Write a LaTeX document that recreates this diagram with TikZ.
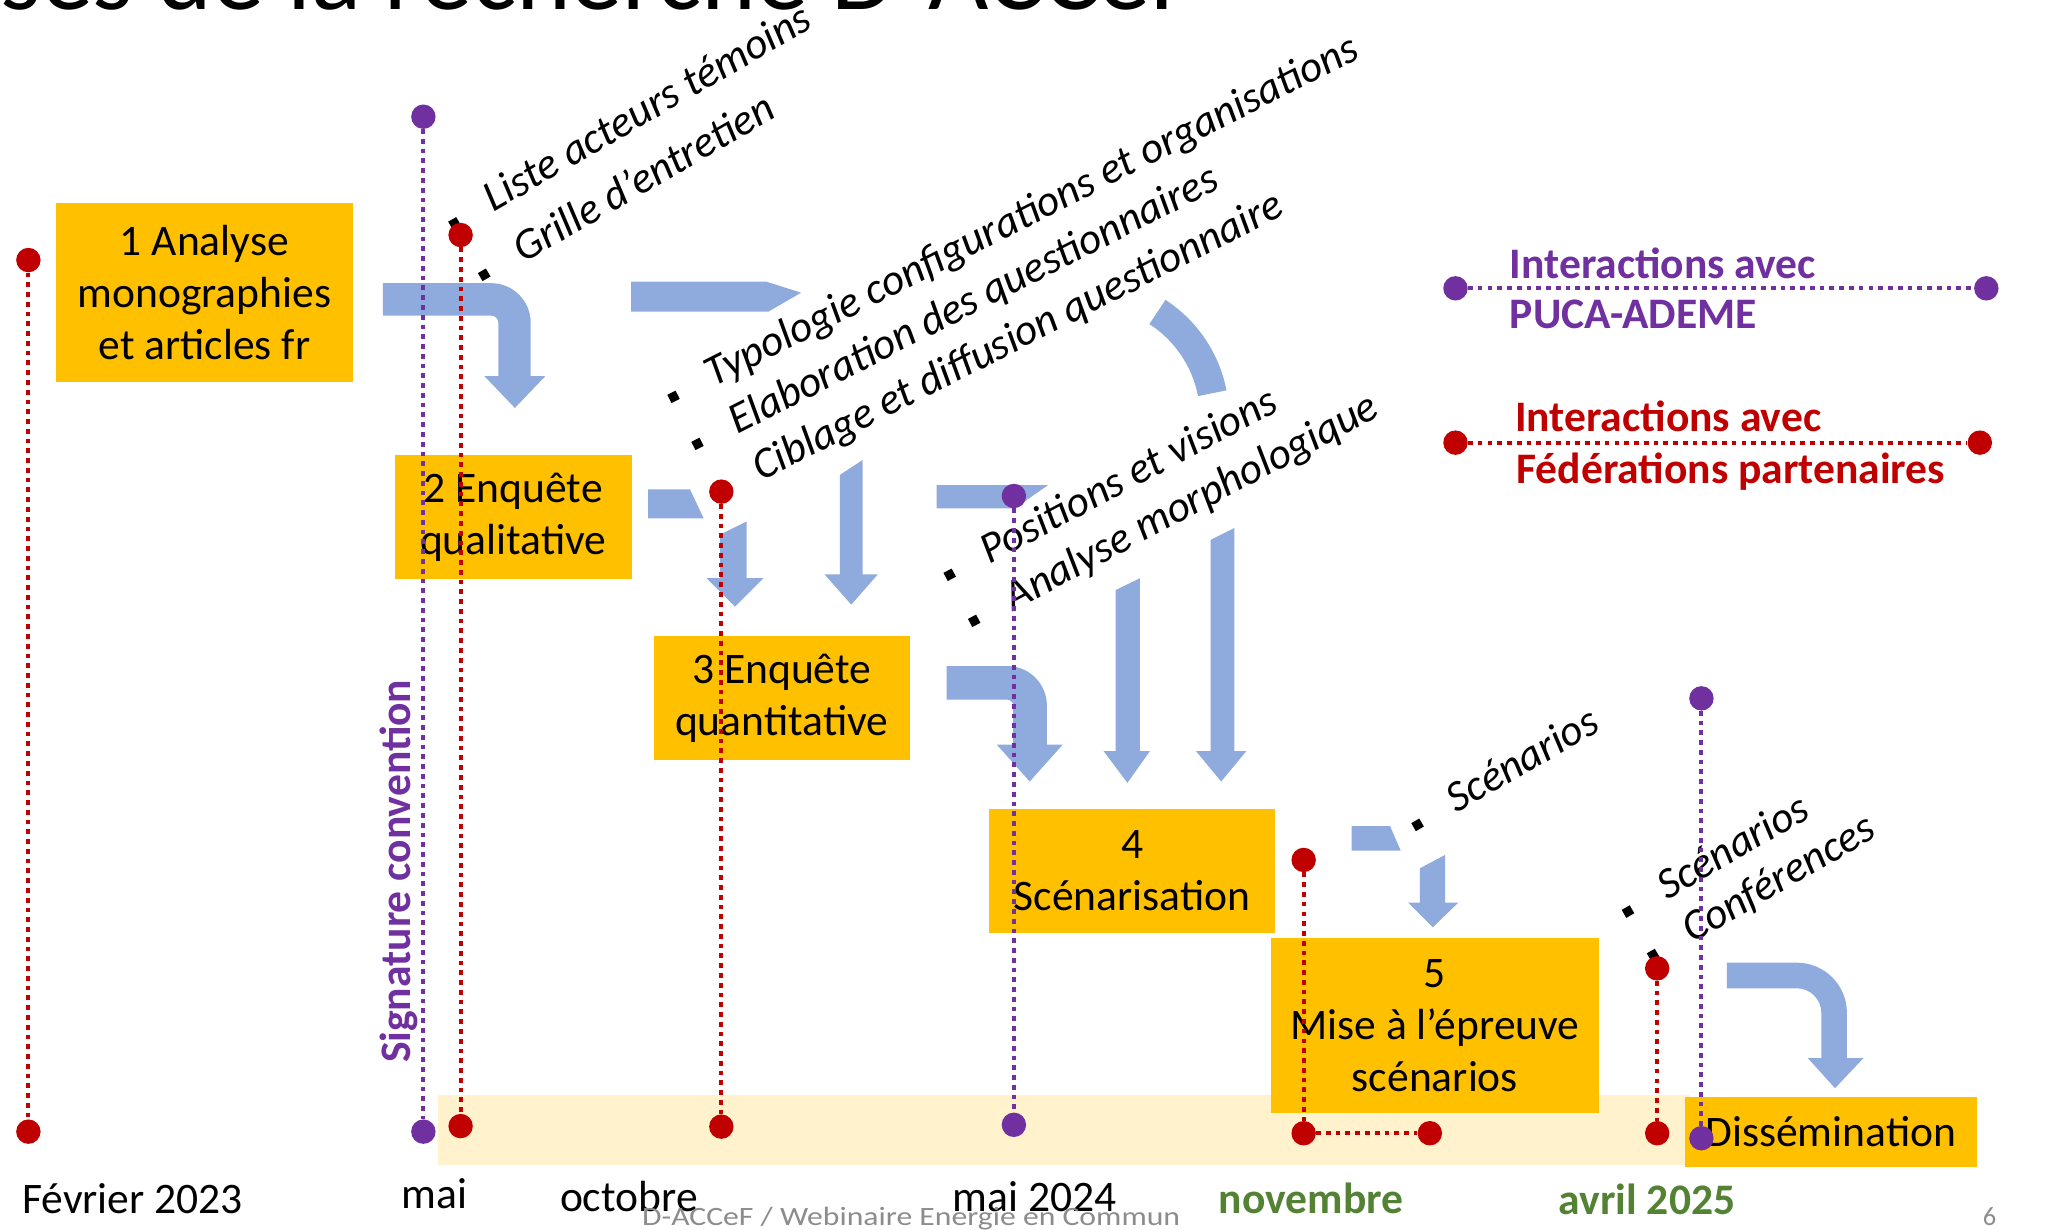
\documentclass[tikz,border=0pt]{standalone}
\usepackage{fontspec}
\setmainfont{Carlito}
\newfontfamily\footfont[FakeStretch=1.2]{Carlito}
\definecolor{cred}{HTML}{C00000}
\definecolor{cpurple}{HTML}{7030A0}
\definecolor{cyellow}{HTML}{FFC000}
\definecolor{cband}{HTML}{FFF2CC}
\definecolor{cblue}{HTML}{8FAADC}
\definecolor{cgreen}{HTML}{548235}
\definecolor{cgray}{HTML}{8C8C8C}
\newcommand{\sqbul}{\rule[4pt]{7pt}{7pt}\hspace{26.5pt}}
\newcommand{\fsz}{\fontsize{33}{39.5}\selectfont}
\begin{document}
\begin{tikzpicture}[x=1pt,y=-1pt,
  box/.style={rectangle, fill=cyellow, inner sep=0pt, align=center, font=\fsz, text=black},
  blu/.style={fill=cblue, draw=none},
  itx/.style={font=\fsz\itshape, inner sep=0pt, anchor=base west},
  lbl/.style={font=\fsz, inner sep=0pt, anchor=base west},
  rdot/.style={circle, fill=cred, inner sep=0pt, minimum size=18.5pt},
  pdot/.style={circle, fill=cpurple, inner sep=0pt, minimum size=18.5pt},
  rdots/.style={draw=cred, line width=3pt, dash pattern=on 3.6pt off 3.8pt},
  pdots/.style={draw=cpurple, line width=3pt, dash pattern=on 3.6pt off 3.8pt}]
\useasboundingbox (0,0) rectangle (1568,931);
\clip (0,0) rectangle (1568,931);
\fill[white] (0,0) rectangle (1568,931);

% title (cut by the top edge)
\node[inner sep=0pt, anchor=base west, font=\fontsize{79}{80}\selectfont] (title) at (0,7) {ses de la recherche D-ACCeF};

% band
\fill[cband] (332.1,829.4) rectangle (1280,882.5);

% boxes
\node[box, minimum width=225.2pt, minimum height=135pt] (b1) at (154.8,221.5) {1 Analyse\\monographies\\et articles fr};
\node[box, minimum width=179.3pt, minimum height=94.2pt] (b2) at (388.75,391.7) {2 Enquête\\qualitative};
\node[box, minimum width=194pt, minimum height=94pt] (b3) at (592.1,528.7) {3 Enquête\\quantitative};
\node[box, minimum width=216.5pt, minimum height=93.5pt] (b4) at (857.55,659.75) {4\\Scénarisation};
\node[box, minimum width=248.7pt, minimum height=132.6pt] (b5) at (1086.95,777) {5\\Mise à l’épreuve\\scénarios};
\node[box, minimum width=221.6pt, minimum height=53.5pt] (b6) at (1386.8,857.45) {Dissémination};

% blue arrows
\fill[blu] (290,214.5) -- (372,214.5) .. controls (388.6,214.5) and (402,227.9) .. (402,244.5)
  -- (402,285) -- (413,285) -- (390,309) -- (367,285) -- (377.5,285) -- (377.5,244.5)
  .. controls (377.5,241.5) and (375,239) .. (372,239) -- (290,239) -- cycle;
\fill[blu] (478,213.4) -- (580.6,213.4) -- (606.8,221.7) -- (582,236.1) -- (478,236.1) -- cycle;
\draw[cblue, line width=22pt] plot[domain=11:57, samples=40, smooth] ({825+95*cos(\x)},{316-95*sin(\x)});
\fill[blu] (491,370.6) -- (522.6,370.6) -- (533,392.6) -- (491,392.6) -- cycle;
\fill[blu] (545.4,405) -- (565.6,395) -- (565.6,438) -- (578.2,438) -- (556.7,459.5) -- (535.3,438) -- (545.4,438) -- cycle;
\fill[blu] (636.1,359.8) -- (653.5,348.4) -- (653.5,435) -- (665,435) -- (644.8,458) -- (624.5,435) -- (636.1,435) -- cycle;
\fill[blu] (709.5,367.4) -- (794,367.4) -- (768.6,385) -- (709.5,385) -- cycle;
\fill[blu] (717,504.5) -- (763,504.5) .. controls (779.6,504.5) and (793,517.9) .. (793,534.5)
  -- (793,564) -- (805,564) -- (780,592) -- (755,564) -- (767.5,564) -- (767.5,534.5)
  .. controls (767.5,532) and (765.5,530) .. (763,530) -- (717,530) -- cycle;
\fill[blu] (845,447) -- (863.5,438) -- (863.5,569) -- (871,569) -- (854,593) -- (836,569) -- (845,569) -- cycle;
\fill[blu] (917,409) -- (935,400) -- (935,569) -- (944,569) -- (925,592) -- (906,569) -- (917,569) -- cycle;
\fill[blu] (1023.9,625.7) -- (1052.9,625.7) -- (1061,644.3) -- (1023.9,644.3) -- cycle;
\fill[blu] (1075.6,657.7) -- (1094.6,647.6) -- (1094.6,683.7) -- (1104.6,683.7) -- (1085.4,702.4) -- (1066.7,683.7) -- (1075.6,683.7) -- cycle;
\fill[blu] (1308,729.2) -- (1361,729.2) .. controls (1382,729.2) and (1399,746.2) .. (1399,767.2)
  -- (1399,801.6) -- (1411.4,801.6) -- (1390,824.3) -- (1369.5,801.6) -- (1379.6,801.6) -- (1379.6,767.2)
  .. controls (1379.6,756.9) and (1371.3,748.6) .. (1361,748.6) -- (1308,748.6) -- cycle;

% rotated bullet texts
\begin{scope}[shift={(344.1,169.3)}, rotate=30, transform shape]
  \node[itx] (g1a) at (-3.5,7.5) {\sqbul Liste acteurs témoins};
  \node[itx] (g1b) at (-3.5,52.5) {\sqbul Grille d’entretien};
\end{scope}
\begin{scope}[shift={(510,300.7)}, rotate=27, transform shape]
  \node[itx] (g2a) at (-3.5,7.5) {\sqbul Typologie configurations et organisations};
  \node[itx] (g2b) at (-3.5,47.5) {\sqbul Elaboration des questionnaires};
  \node[itx] (g2c) at (-3.5,87.5) {\sqbul Ciblage et diffusion questionnaire};
\end{scope}
\begin{scope}[shift={(719.2,435.5)}, rotate=28, transform shape]
  \node[itx] (g3a) at (-3.5,7.5) {\sqbul Positions et visions};
  \node[itx] (g3b) at (-3.5,47) {\sqbul Analyse morphologique};
\end{scope}
\begin{scope}[shift={(1073.6,624.9)}, rotate=30, transform shape]
  \node[itx] (g4a) at (-3.5,7.5) {\sqbul Scénarios};
\end{scope}
\begin{scope}[shift={(1233,690.6)}, rotate=30, transform shape]
  \node[itx] (g5a) at (-3.5,7.5) {\sqbul Scénarios};
  \node[itx] (g5b) at (-3.5,45.5) {\sqbul Conférences};
\end{scope}

% vertical label
\node[inner sep=0pt, anchor=base west, rotate=90, font=\fsz\bfseries, text=cpurple] (sig) at (310.8,805.4) {Signature convention};

% legend texts
\node[lbl, font=\fsz\bfseries, text=cpurple] (lt1) at (1143.5,211.3) {Interactions avec};
\node[lbl, font=\fsz\bfseries, text=cpurple] (lt2) at (1143.5,248.7) {PUCA-ADEME};
\node[lbl, font=\fsz\bfseries, text=cred] (lt3) at (1147.5,327) {Interactions avec};
\node[lbl, font=\fsz\bfseries, text=cred] (lt4) at (1148.5,366.1) {Fédérations partenaires};

% month labels
\node[lbl] (m1) at (16.6,919) {Février 2023};
\node[lbl] (m2) at (304,915.3) {mai};
\node[lbl] (m3) at (424,917.8) {octobre};
\node[lbl] (m4) at (721.5,918) {mai 2024};
\node[lbl, font=\fsz\bfseries, text=cgreen] (m5) at (923,919) {novembre};
\node[lbl, font=\fsz\bfseries, text=cgreen] (m6) at (1180.5,920.3) {avril 2025};

% footer
\node[inner sep=0pt, anchor=base west, text=cgray, font=\footfont\fontsize{20}{20}\selectfont] (foot) at (486.2,928) {D-ACCeF / Webinaire Energie en Commun};
\node[inner sep=0pt, anchor=base west, text=cgray, font=\fontsize{20}{20}\selectfont] (pnum) at (1501.8,928) {6};

% timeline dots
\node[rdot] (r1t) at (21.5,197) {};
\node[rdot] (r1b) at (21.5,857.2) {};
\node[pdot] (p2t) at (320.7,88.4) {};
\node[pdot] (p2b) at (320.7,857.2) {};
\node[rdot] (r3t) at (348.9,178) {};
\node[rdot] (r3b) at (348.9,853) {};
\node[rdot] (r4t) at (546.4,372.4) {};
\node[rdot] (r4b) at (546.4,853.4) {};
\node[pdot] (p5t) at (768,375.7) {};
\node[pdot] (p5b) at (768,852) {};
\node[rdot] (r6t) at (987.5,651.4) {};
\node[rdot] (r6b) at (987.5,858.4) {};
\node[rdot] (r6c) at (1083.1,858.4) {};
\node[rdot] (r7t) at (1255.3,733.5) {};
\node[rdot] (r7b) at (1255.3,858.4) {};
\node[pdot] (p8t) at (1288.8,529) {};
\node[pdot] (p8b) at (1288.8,862.2) {};
\node[pdot] (lp1) at (1102.5,218.4) {};
\node[pdot] (lp2) at (1504.6,218.4) {};
\node[rdot] (lr1) at (1102.5,335.3) {};
\node[rdot] (lr2) at (1499.7,335.3) {};

% dotted connectors
\draw[rdots] (r1t) -- (r1b);
\draw[pdots] (p2t) -- (p2b);
\draw[rdots] (r3t) -- (r3b);
\draw[rdots] (r4t) -- (r4b);
\draw[pdots] (p5t) -- (p5b);
\draw[rdots] (r6t) -- (r6b);
\draw[rdots] (r6b) -- (r6c);
\draw[rdots] (r7t) -- (r7b);
\draw[pdots] (p8t) -- (p8b);
\draw[pdots] (lp1) -- (lp2);
\draw[rdots] (lr1) -- (lr2);
\end{tikzpicture}
\end{document}
